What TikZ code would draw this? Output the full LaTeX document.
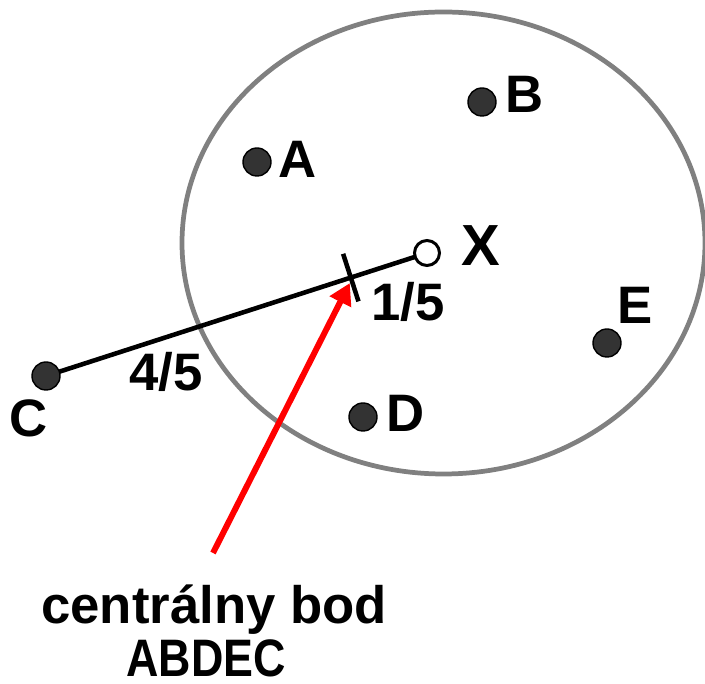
\documentclass[tikz,border=0pt]{standalone}
\usepackage{fontspec}
\setmainfont{Liberation Sans}
\usepackage{tkz-euclide}
\usetikzlibrary{arrows.meta,calc}
\definecolor{RimClr}{rgb}{0.5,0.5,0.5}
\definecolor{DotClr}{rgb}{0.2,0.2,0.2}
\definecolor{ArrowClr}{rgb}{1,0,0}

\begin{document}
\begin{tikzpicture}[font=\fontsize{30}{34}\selectfont\bfseries,
  dot/.style={draw=black,line width=0.8pt,fill=DotClr},
  lbl/.style={inner sep=0pt}]
\useasboundingbox (0,0) rectangle (14.1,13.68);

\tkzDefPoints{5.14/10.44/A,9.64/11.64/B,8.54/8.62/X,12.14/6.82/E,7.26/5.34/D,0.92/6.16/C}
\tkzDefPoints{8.87/8.82/O,4.26/2.62/T}
\coordinate (M) at ($(C)!0.8!(X)$);
\coordinate (P) at ($(M)+(-0.02,-0.11)$);

\draw[line width=2.7pt,color=RimClr] (O) ellipse (5.23 and 4.62);

\draw[line width=2.6pt] (C) -- (X);
\draw[line width=2.6pt] ($(M)!0.5cm!90:(X)$) -- ($(M)!0.5cm!-90:(X)$);

\foreach \p in {A,B,C,D,E}
  \draw[dot] (\p) circle (0.28);
\draw[line width=1.7pt,fill=white] (X) circle (0.25);

\node[lbl] (lA) at (5.96,10.50) {A};
\node[lbl] (lB) at (10.50,11.80) {B};
\node[lbl,font=\fontsize{33}{37}\selectfont\bfseries] (lX) at (9.62,8.76) {X};
\node[lbl] (lE) at (12.70,7.58) {E};
\node[lbl] (lD) at (8.12,5.42) {D};
\node[lbl] (lC) at (0.58,5.32) {C};
\node[lbl] (l45) at (3.32,6.24) {4/5};
\node[lbl] (l15) at (8.16,7.64) {1/5};

\node[lbl,anchor=base] (txt1) at (4.28,1.20) {centrálny bod};
\node[lbl,anchor=base] (txt2) at (4.12,0.15) {\scalebox{0.85}[1]{ABDEC}};

\draw[-{Triangle[length=0.42cm,width=0.46cm]},line width=3.4pt,color=ArrowClr] (T) -- (P);

\end{tikzpicture}
\end{document}
